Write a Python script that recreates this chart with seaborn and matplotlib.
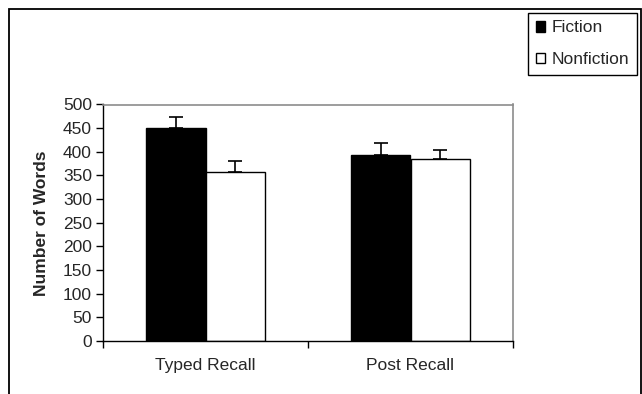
import matplotlib
matplotlib.use("Agg")
import matplotlib.pyplot as plt
import matplotlib.patches as mpatches
import seaborn as sns
import pandas as pd

conditions = ["Typed Recall", "Post Recall"]
genres = ["Fiction", "Nonfiction"]
fiction_words = [450, 393]
nonfiction_words = [357, 384]
fiction_err = [23, 26]
nonfiction_err = [23, 19]

df = pd.DataFrame({
    "Condition": conditions * 2,
    "Genre": ["Fiction"] * 2 + ["Nonfiction"] * 2,
    "Words": fiction_words + nonfiction_words,
    "Err": fiction_err + nonfiction_err,
})

sns.set_style("white")
plt.rcParams["font.family"] = ["Liberation Sans", "DejaVu Sans"]
fs = 12.5

fig = plt.figure(figsize=(6.42, 3.94), dpi=100)
ax = fig.add_axes([103 / 642, 1 - 341 / 394, 410 / 642, 236.5 / 394])

sns.barplot(data=df, x="Condition", y="Words", hue="Genre", order=conditions,
            hue_order=genres, palette={"Fiction": "black", "Nonfiction": "white"},
            edgecolor="black", linewidth=1, width=0.58, errorbar=None, ax=ax)

# one-sided error bars at the centre of each bar
bars = [p for p in ax.patches if p.get_height() > 0]
bars.sort(key=lambda p: p.get_x())
order = [("Typed Recall", "Fiction"), ("Typed Recall", "Nonfiction"),
         ("Post Recall", "Fiction"), ("Post Recall", "Nonfiction")]
for bar, (c, g) in zip(bars, order):
    row = df[(df.Condition == c) & (df.Genre == g)].iloc[0]
    ax.errorbar(bar.get_x() + bar.get_width() / 2, row.Words,
                yerr=[[0], [row.Err]], fmt="none", ecolor="black",
                elinewidth=1.2, capsize=5, capthick=1.2)

ax.set_ylim(0, 500)
ax.set_yticks(range(0, 501, 50))
ax.set_xlim(-0.5, 1.5)
ax.set_xticks([0, 1])
ax.set_xticklabels(conditions)
ax.set_xticks([-0.5, 0.5, 1.5], minor=True)
ax.tick_params(axis="x", which="major", length=0, pad=12, labelsize=fs)
ax.tick_params(axis="x", which="minor", length=5, width=1, color="black",
               direction="out", bottom=True)
ax.tick_params(axis="y", length=5, width=1, color="black", direction="out",
               left=True, pad=3, labelsize=fs)
ax.set_xlabel("")
ax.set_ylabel("Number of Words", fontsize=fs, fontweight="bold", labelpad=10)

for side in ["left", "bottom"]:
    ax.spines[side].set_color("black")
    ax.spines[side].set_linewidth(1)
for side in ["top", "right"]:
    ax.spines[side].set_visible(True)
    ax.spines[side].set_color("#8c8c8c")
    ax.spines[side].set_linewidth(1.2)

handles, labels = ax.get_legend_handles_labels()
ax.get_legend().remove()
fig.legend(handles, labels, loc="upper right", bbox_to_anchor=(0.992, 0.968),
           frameon=True, fancybox=False, edgecolor="black", framealpha=1,
           fontsize=fs, handlelength=0.55, handleheight=0.55, handletextpad=0.35,
           labelspacing=0.95, borderpad=0.45, borderaxespad=0)

# outer chart border
fig.patches.append(mpatches.Rectangle((9 / 642, -0.1), (640.5 - 9) / 642,
                                      1 - 9 / 394 + 0.1, transform=fig.transFigure,
                                      fill=False, edgecolor="black", linewidth=1.3))

fig.savefig("out.png", dpi=100)
